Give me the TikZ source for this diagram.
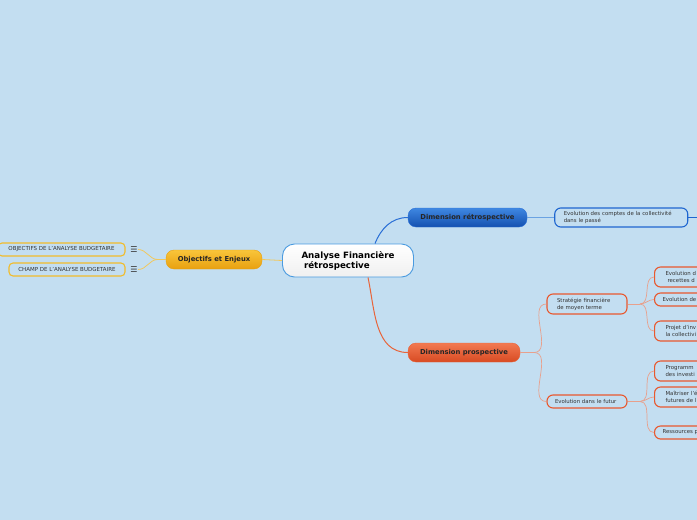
\documentclass[tikz,border=0pt]{standalone}
\usepackage{fontspec}
\setmainfont{DejaVu Sans}
\usetikzlibrary{positioning}
\definecolor{BgBlue}     {HTML}{C3DEF1}
\definecolor{CentreLine} {HTML}{4A9BE0}
\definecolor{RetroTop}   {HTML}{3F88E2}
\definecolor{RetroBot}   {HTML}{1450B0}
\definecolor{RetroLine}  {HTML}{2A6FD6}
\definecolor{ProspTop}   {HTML}{F27A52}
\definecolor{ProspBot}   {HTML}{D84A22}
\definecolor{ProspLine}  {HTML}{E8643A}
\definecolor{ObjTop}     {HTML}{F9C53A}
\definecolor{ObjBot}     {HTML}{E8A010}
\definecolor{ObjLine}    {HTML}{F0C860}
\definecolor{LeafRed}    {HTML}{E8582E}
\definecolor{LeafBlue}   {HTML}{1F66D0}
\definecolor{LeafYellow} {HTML}{F2BC2A}
\definecolor{SubSalmon}  {HTML}{E8A08C}
\definecolor{SubBlue}    {HTML}{6AA2E2}
\definecolor{TextGray}   {HTML}{333333}
\newcommand{\leaffont}{\fontsize{5.4}{6.8}\selectfont}

\begin{document}
\begin{tikzpicture}[x=1pt, y=-1pt,
		centre/.style={draw=CentreLine, line width=0.9pt, top color=white, bottom color=gray!12,
			rounded corners=12pt, minimum width=131pt, minimum height=33pt,
			font=\fontsize{8.7}{10}\selectfont\bfseries, align=left, inner sep=0pt},
		branch/.style={rounded corners=8pt, minimum height=19pt, inner sep=0pt,
			font=\fontsize{6.8}{8}\selectfont\bfseries, text=black!85},
		retro/.style={branch, draw=RetroLine, top color=RetroTop, bottom color=RetroBot, minimum width=119pt},
		prosp/.style={branch, draw=ProspLine, top color=ProspTop, bottom color=ProspBot, minimum width=112pt},
		objbox/.style={branch, draw=ObjBot, top color=ObjTop, bottom color=ObjBot, minimum width=96pt},
		leaf/.style={rounded corners=6pt, line width=1.1pt, fill=BgBlue, inner sep=0pt,
			font=\leaffont, text=TextGray, align=left},
		leafR/.style={leaf, draw=LeafRed},
		leafB/.style={leaf, draw=LeafBlue},
		leafY/.style={leaf, draw=LeafYellow, rounded corners=4pt, font=\fontsize{5.5}{6.5}\selectfont},
		cut/.style={leafR, anchor=west, minimum width=80pt, text width=70pt, inner xsep=10pt},
		icon/.style={font=\fontsize{8}{8}\selectfont, text=TextGray, inner sep=0.5pt},
		mainR/.style={ProspLine, line width=1pt},
		mainB/.style={RetroLine, line width=1pt},
		objl/.style={ObjLine, line width=0.8pt},
		subR/.style={SubSalmon, line width=0.7pt},
		subB/.style={SubBlue, line width=0.7pt},
		]
		\useasboundingbox (0,0) rectangle (697,520);
		\fill[BgBlue] (0,0) rectangle (697,520);
		\clip (0,0) rectangle (697,520);
		% ── Centre and main branches ─────────────────────────────────────────────────
		\node[centre]  (centre)   at (348,260.5) {Analyse Financière\\\hspace{2.5pt}rétrospective};
		\node[retro]   (dimretro) at (467.5,217.5) {Dimension rétrospective};
		\node[prosp]   (dimprosp) at (464,352.5)   {Dimension prospective};
		\node[objbox]  (objectifs) at (214,259.5)  {Objectifs et Enjeux};
		% ── Left leaves ──────────────────────────────────────────────────────────────
		\node[leafY, minimum width=127pt, minimum height=13pt] (objanalyse) at (61.5,249.5)
			{OBJECTIFS DE L'ANALYSE BUDGETAIRE};
		\node[leafY, minimum width=116pt, minimum height=13pt] (champ) at (67,269.5)
			{CHAMP DE L'ANALYSE BUDGETAIRE};
		\node[icon, right=4pt of objanalyse] (iconA) {☰};
		\node[icon, right=4pt of champ]      (iconB) {☰};
		% ── Retrospective side ───────────────────────────────────────────────────────
		\node[leafB, right=27pt of dimretro, minimum width=133pt, minimum height=19pt,
			text width=115pt] (comptes) {Evolution des comptes de la collectivité\\dans le passé};
		\coordinate (offright) at (705,217.5);
		% ── Prospective side ─────────────────────────────────────────────────────────
		\coordinate (jprosp) at (534,352.5);
		\node[leafR, minimum width=80pt, minimum height=20pt, text width=60pt] (strategie) at (587,304)
			{Stratégie financière\\de moyen terme};
		\node[leafR, minimum width=80pt, minimum height=13pt, text width=64pt] (futur) at (587,401.5)
			{Evolution dans le futur};
		\coordinate (jstrat) at (640,304);
		\coordinate (jfutur) at (640,401.5);
		\node[cut, minimum height=20pt, inner xsep=11pt] (depenses) at (654,277) {Evolution d\\\hspace{2pt}recettes d};
		\node[cut, minimum height=13pt, inner xsep=8pt] (evolde) at (654,299.5) {Evolution de};
		\node[cut, minimum height=20pt, inner xsep=11pt] (projet)   at (654,331)   {Projet d'inv\\la collectivi};
		\node[cut, minimum height=20pt, inner xsep=11pt] (programme) at (654,371)  {Programm\\des investi};
		\node[cut, minimum height=20pt, inner xsep=11pt] (maitriser) at (654,397)  {Maîtriser l'é\\futures de l};
		\node[cut, minimum height=13pt, inner xsep=8pt] (ressources) at (654,432.5) {Ressources p};
		% ── Connectors ───────────────────────────────────────────────────────────────
		\draw[mainB] ([xshift=27pt]centre.north) to[out=68,in=180] (dimretro.west);
		\draw[mainR] ([xshift=20pt]centre.south) to[out=-78,in=180] (dimprosp.west);
		\draw[objl]  (objectifs.east) -- (centre.west);
		\draw[objl]  (objectifs.west) -- ++(-8,0) to[out=180,in=0] (iconA.east);
		\draw[objl]  (objectifs.west) -- ++(-8,0) to[out=180,in=0] (iconB.east);
		\draw[subB]  (dimretro.east) -- (comptes.west);
		\draw[LeafBlue, line width=1pt] (comptes.east) -- (offright);
		\draw[subR]  (dimprosp.east) -- (jprosp);
		\foreach \t in {strategie, futur}
			\draw[subR] (jprosp) to[out=0,in=180] (\t.west);
		\draw[subR]  (strategie.east) -- (jstrat);
		\foreach \t in {depenses, evolde, projet}
			\draw[subR] (jstrat) to[out=0,in=180] (\t.west);
		\draw[subR]  (futur.east) -- (jfutur);
		\foreach \t in {programme, maitriser, ressources}
			\draw[subR] (jfutur) to[out=0,in=180] (\t.west);
	\end{tikzpicture}
\end{document}
